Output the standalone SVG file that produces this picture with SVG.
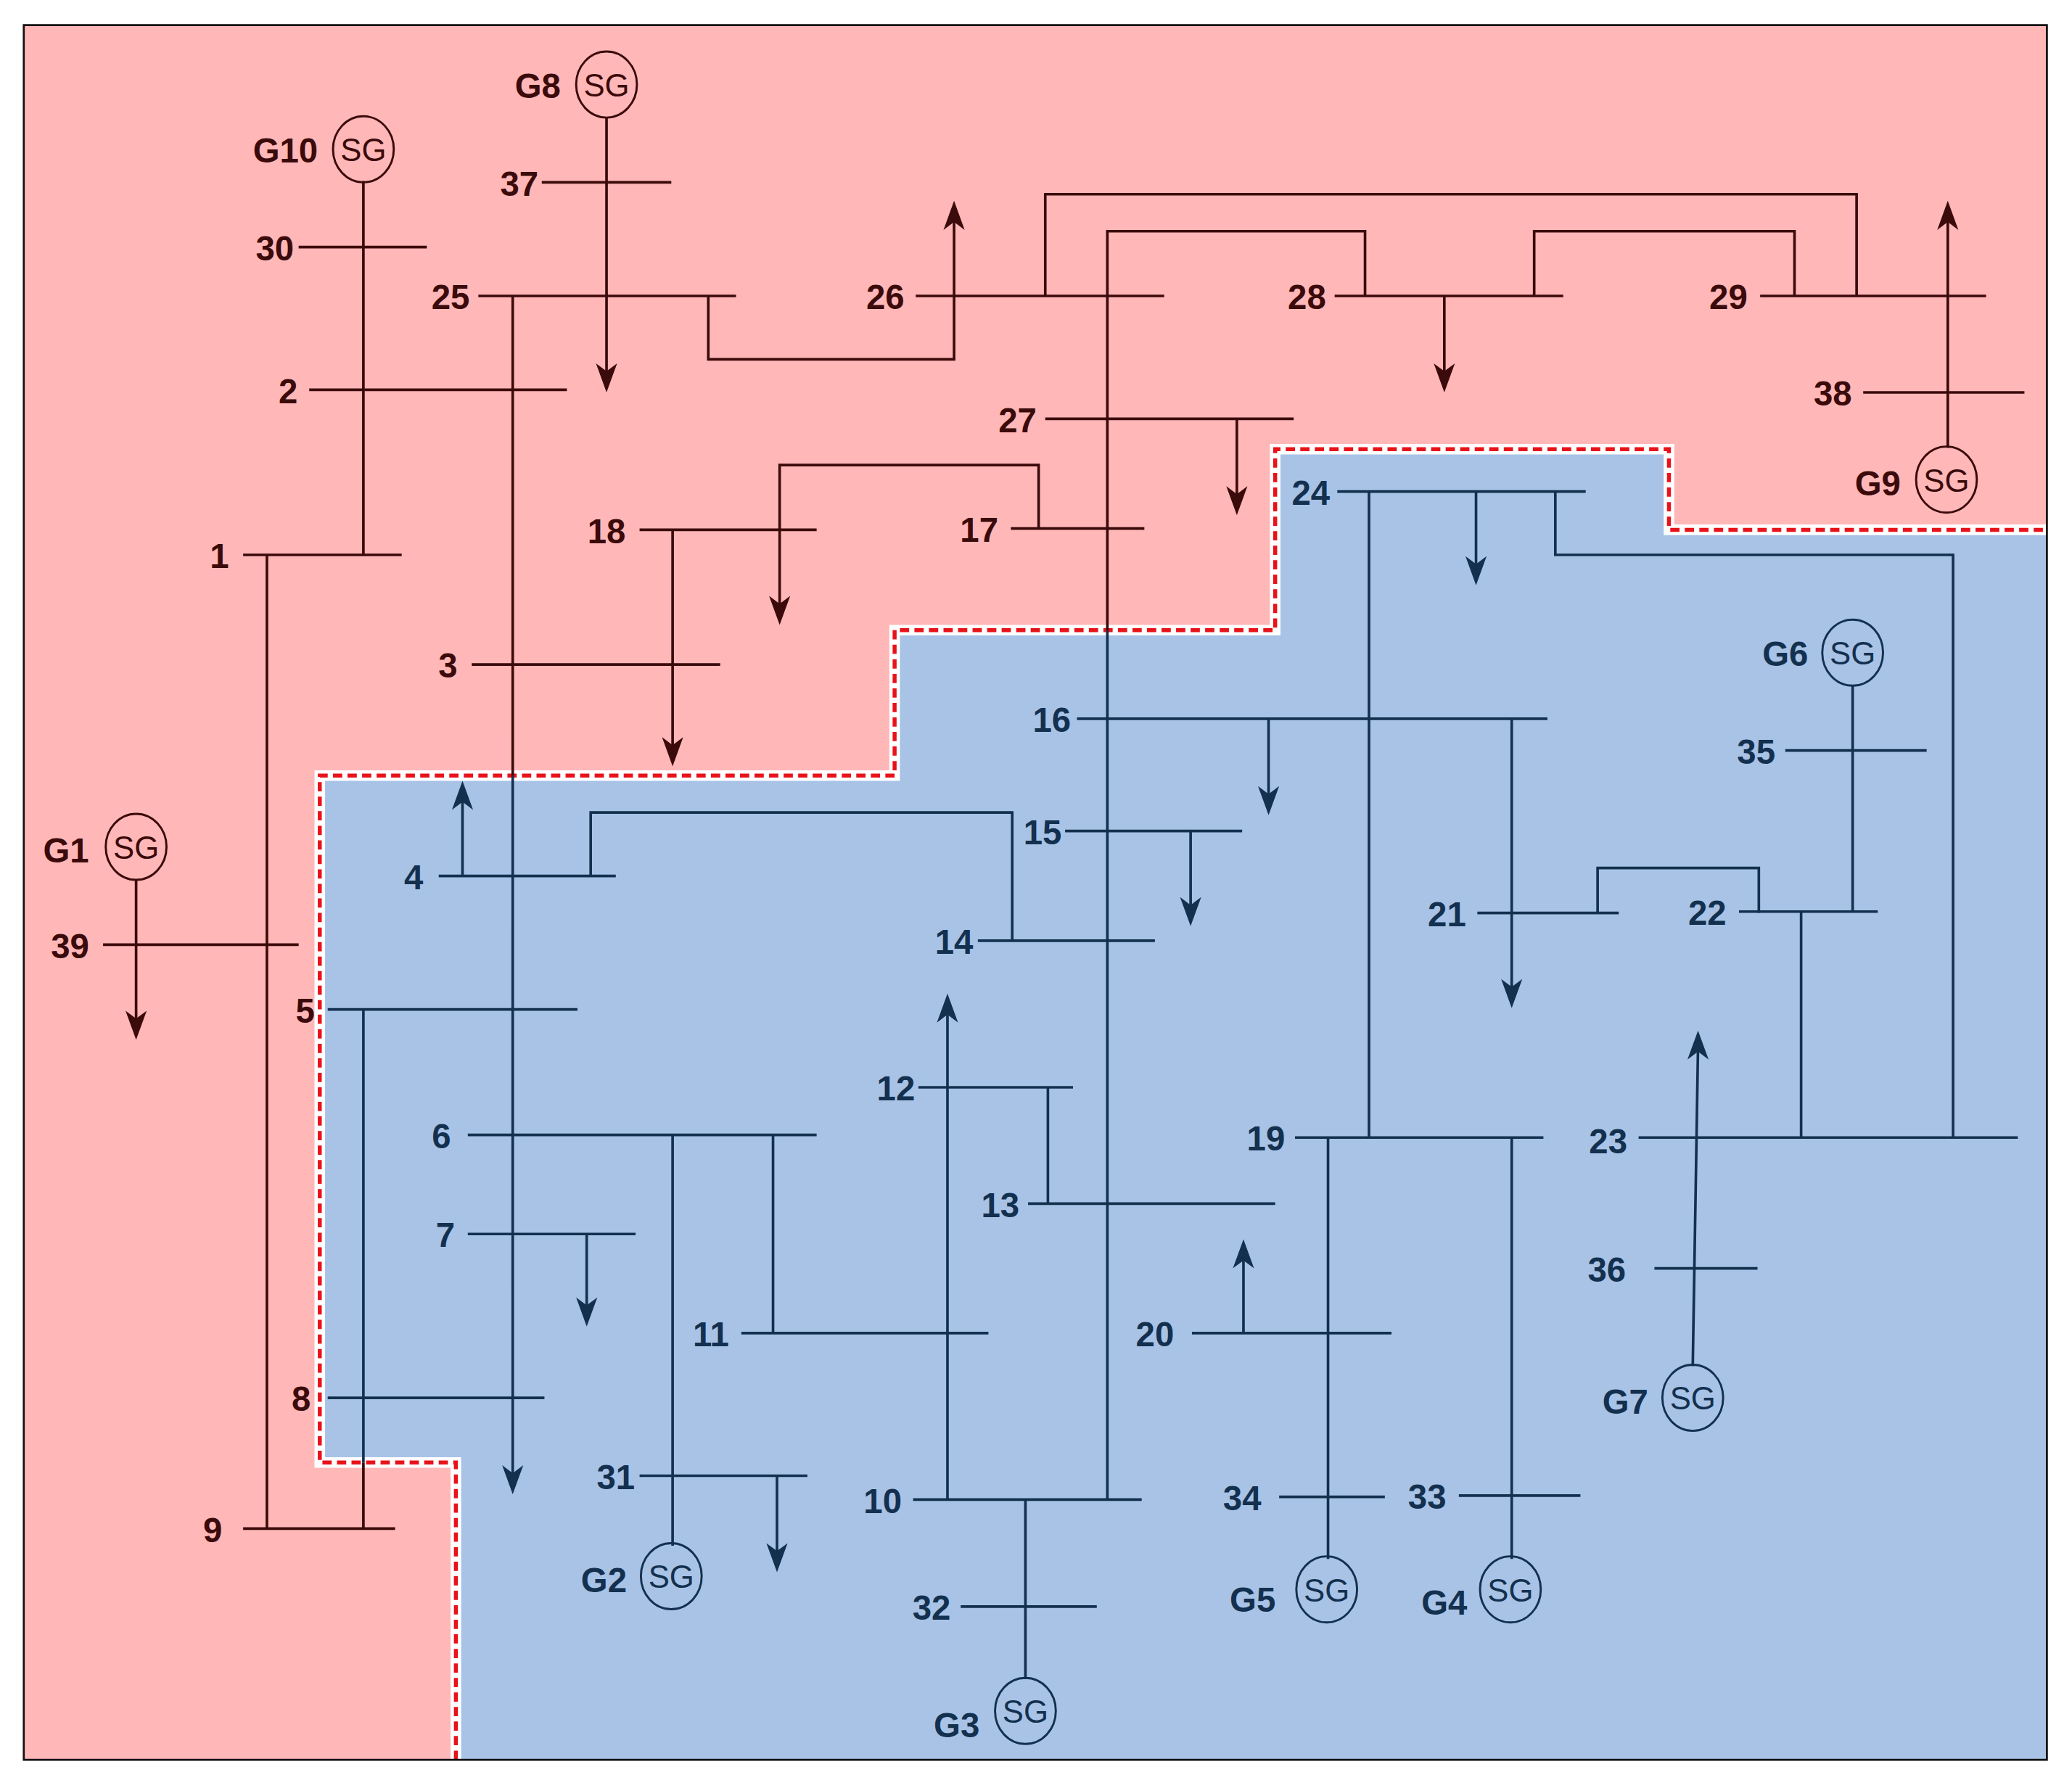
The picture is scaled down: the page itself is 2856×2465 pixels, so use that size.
<svg xmlns="http://www.w3.org/2000/svg" xmlns:xlink="http://www.w3.org/1999/xlink" width="2856" height="2465" viewBox="0 0 2856 2465">
<style>
.l{fill:none;stroke:currentColor;stroke-width:2}
.a{fill:currentColor;stroke:none}
.c{fill:none;stroke:currentColor;stroke-width:1.6}
text{font-family:"Liberation Sans Narrow","Liberation Sans",Arial,sans-serif;font-weight:bold;font-size:26px;fill:currentColor;text-anchor:middle}
.sg{font-family:"Liberation Sans",Arial,sans-serif;font-weight:normal;font-size:24px}
</style>
<defs>
<clipPath id="cpR"><polygon points="0,0 1568,0 1568,401 1263,401 1263,340 965,340 965,477 677,477 677,587 242,587 242,1107 345,1107 345,1350 0,1350"/></clipPath>
<clipPath id="cpB"><polygon points="345,1350 345,1107 242,1107 242,587 677,587 677,477 965,477 965,340 1263,340 1263,401 1568,401 1568,1350"/></clipPath>
<g id="net">
<g id="connectors">
<path class="l" d="M275,137V420 M459,89V285 M202,420V1157 M103,666V775 M275,764V1157 M388,224V1119
M536,224V272H722V164 M791,224V147H1405V224 M1033,224V175H838V1135 M1093,224V285 M1161,224V175H1358V224
M1474,339V164 M936,317V378 M786,400V352H590V461 M509,401V568 M350,663V603 M447,663V615H766V712
M901,629V689 M960,544V605 M1144,544V751 M1036,372V861 M1117,372V431 M1177,372V420H1478V861
M1402,519V690 M1209,691V657H1331V691 M1363,690V861 M1281,1034L1285,792 M1005,861V1180 M1144,861V1180
M941,1009V950 M793,823V911 M717,1135V764 M509,859V1170 M585,859V1009 M444,934V992 M588,1117V1178 M776,1135V1271"/>
<g class="a">
<path d="M459,297l-8,-22l8,6l8,-6z"/>
<path d="M103,787l-8,-22l8,6l8,-6z"/>
<path d="M388,1131l-8,-22l8,6l8,-6z"/>
<path d="M722,152l-8,22l8,-6l8,6z"/>
<path d="M1093,297l-8,-22l8,6l8,-6z"/>
<path d="M1474,152l-8,22l8,-6l8,6z"/>
<path d="M936,390l-8,-22l8,6l8,-6z"/>
<path d="M590,473l-8,-22l8,6l8,-6z"/>
<path d="M509,580l-8,-22l8,6l8,-6z"/>
<path d="M350,591l-8,22l8,-6l8,6z"/>
<path d="M901,701l-8,-22l8,6l8,-6z"/>
<path d="M960,617l-8,-22l8,6l8,-6z"/>
<path d="M1144,763l-8,-22l8,6l8,-6z"/>
<path d="M1117,443l-8,-22l8,6l8,-6z"/>
<path d="M1285,780l-8,22l8,-6l8,6z"/>
<path d="M941,938l-8,22l8,-6l8,6z"/>
<path d="M717,752l-8,22l8,-6l8,6z"/>
<path d="M444,1004l-8,-22l8,6l8,-6z"/>
<path d="M588,1190l-8,-22l8,6l8,-6z"/>
</g>
</g>
<g id="bus1"><path class="l" d="M184,420H304"/><text x="166" y="430">1</text></g>
<g id="bus2"><path class="l" d="M234,295H429"/><text x="218" y="305">2</text></g>
<g id="bus3"><path class="l" d="M357,503H545"/><text x="339" y="513">3</text></g>
<g id="bus4"><path class="l" d="M332,663H466"/><text x="313" y="673">4</text></g>
<g id="bus5"><path class="l" d="M248,764H437"/><text x="231" y="774">5</text></g>
<g id="bus6"><path class="l" d="M354,859H618"/><text x="334" y="869">6</text></g>
<g id="bus7"><path class="l" d="M354,934H481"/><text x="337" y="944">7</text></g>
<g id="bus8"><path class="l" d="M248,1058H412"/><text x="228" y="1068">8</text></g>
<g id="bus9"><path class="l" d="M184,1157H299"/><text x="161" y="1167">9</text></g>
<g id="bus10"><path class="l" d="M691,1135H864"/><text x="668" y="1145">10</text></g>
<g id="bus11"><path class="l" d="M561,1009H748"/><text x="538" y="1019">11</text></g>
<g id="bus12"><path class="l" d="M695,823H812"/><text x="678" y="833">12</text></g>
<g id="bus13"><path class="l" d="M778,911H965"/><text x="757" y="921">13</text></g>
<g id="bus14"><path class="l" d="M740,712H874"/><text x="722" y="722">14</text></g>
<g id="bus15"><path class="l" d="M806,629H940"/><text x="789" y="639">15</text></g>
<g id="bus16"><path class="l" d="M815,544H1171"/><text x="796" y="554">16</text></g>
<g id="bus17"><path class="l" d="M765,400H866"/><text x="741" y="410">17</text></g>
<g id="bus18"><path class="l" d="M484,401H618"/><text x="459" y="411">18</text></g>
<g id="bus19"><path class="l" d="M980,861H1168"/><text x="958" y="871">19</text></g>
<g id="bus20"><path class="l" d="M902,1009H1053"/><text x="874" y="1019">20</text></g>
<g id="bus21"><path class="l" d="M1118,691H1225"/><text x="1095" y="701">21</text></g>
<g id="bus22"><path class="l" d="M1316,690H1421"/><text x="1292" y="700">22</text></g>
<g id="bus23"><path class="l" d="M1240,861H1527"/><text x="1217" y="873">23</text></g>
<g id="bus24"><path class="l" d="M1012,372H1200"/><text x="992" y="382">24</text></g>
<g id="bus25"><path class="l" d="M362,224H557"/><text x="341" y="234">25</text></g>
<g id="bus26"><path class="l" d="M693,224H881"/><text x="670" y="234">26</text></g>
<g id="bus27"><path class="l" d="M791,317H979"/><text x="770" y="327">27</text></g>
<g id="bus28"><path class="l" d="M1010,224H1183"/><text x="989" y="234">28</text></g>
<g id="bus29"><path class="l" d="M1332,224H1503"/><text x="1308" y="234">29</text></g>
<g id="bus30"><path class="l" d="M226,187H323"/><text x="208" y="197">30</text></g>
<g id="bus31"><path class="l" d="M484,1117H611"/><text x="466" y="1127">31</text></g>
<g id="bus32"><path class="l" d="M727,1216H830"/><text x="705" y="1226">32</text></g>
<g id="bus33"><path class="l" d="M1104,1132H1196"/><text x="1080" y="1142">33</text></g>
<g id="bus34"><path class="l" d="M968,1133H1048"/><text x="940" y="1143">34</text></g>
<g id="bus35"><path class="l" d="M1351,568H1458"/><text x="1329" y="578">35</text></g>
<g id="bus36"><path class="l" d="M1252,960H1330"/><text x="1216" y="970">36</text></g>
<g id="bus37"><path class="l" d="M410,138H508"/><text x="393" y="148">37</text></g>
<g id="bus38"><path class="l" d="M1410,297H1532"/><text x="1387" y="307">38</text></g>
<g id="bus39"><path class="l" d="M78,715H226"/><text x="53" y="725">39</text></g>
<g id="G1"><ellipse class="c" cx="103" cy="641" rx="23" ry="25"/><text class="sg" x="103" y="650">SG</text><text x="50" y="653">G1</text></g>
<g id="G2"><ellipse class="c" cx="508" cy="1193" rx="23" ry="25"/><text class="sg" x="508" y="1202">SG</text><text x="457" y="1205">G2</text></g>
<g id="G3"><ellipse class="c" cx="776" cy="1295" rx="23" ry="25"/><text class="sg" x="776" y="1304">SG</text><text x="724" y="1315">G3</text></g>
<g id="G4"><ellipse class="c" cx="1143" cy="1203" rx="23" ry="25"/><text class="sg" x="1143" y="1212">SG</text><text x="1093" y="1222">G4</text></g>
<g id="G5"><ellipse class="c" cx="1004" cy="1203" rx="23" ry="25"/><text class="sg" x="1004" y="1212">SG</text><text x="948" y="1220">G5</text></g>
<g id="G6"><ellipse class="c" cx="1402" cy="494" rx="23" ry="25"/><text class="sg" x="1402" y="503">SG</text><text x="1351" y="504">G6</text></g>
<g id="G7"><ellipse class="c" cx="1281" cy="1058" rx="23" ry="25"/><text class="sg" x="1281" y="1067">SG</text><text x="1230" y="1070">G7</text></g>
<g id="G8"><ellipse class="c" cx="459" cy="64" rx="23" ry="25"/><text class="sg" x="459" y="73">SG</text><text x="407" y="74">G8</text></g>
<g id="G9"><ellipse class="c" cx="1473" cy="363" rx="23" ry="25"/><text class="sg" x="1473" y="372">SG</text><text x="1421" y="375">G9</text></g>
<g id="G10"><ellipse class="c" cx="275" cy="113" rx="23" ry="25"/><text class="sg" x="275" y="122">SG</text><text x="216" y="123">G10</text></g>
</g>
</defs>
<rect width="2856" height="2465" fill="#ffffff"/>
<g transform="scale(1.82143)">
<rect x="18" y="19" width="1531" height="1313" fill="#FFB7B8"/>
<polygon points="345,1332 345,1107 242,1107 242,587 677,587 677,477 965,477 965,340 1263,340 1263,401 1549,401 1549,1332" fill="#A8C3E6"/>
<polyline points="345,1332 345,1107 242,1107 242,587 677,587 677,477 965,477 965,340 1263,340 1263,401 1549,401" fill="none" stroke="#ffffff" stroke-width="8"/>
<polyline points="345,1332 345,1107 242,1107 242,587 677,587 677,477 965,477 965,340 1263,340 1263,401 1549,401" fill="none" stroke="#E8121A" stroke-width="3" stroke-dasharray="7,4"/>
<rect x="18" y="19" width="1531" height="1313" fill="none" stroke="#111" stroke-width="1.5"/>
<use xlink:href="#net" clip-path="url(#cpR)" color="#3b0a0a"/>
<use xlink:href="#net" clip-path="url(#cpB)" color="#13304f"/>
</g>
</svg>
